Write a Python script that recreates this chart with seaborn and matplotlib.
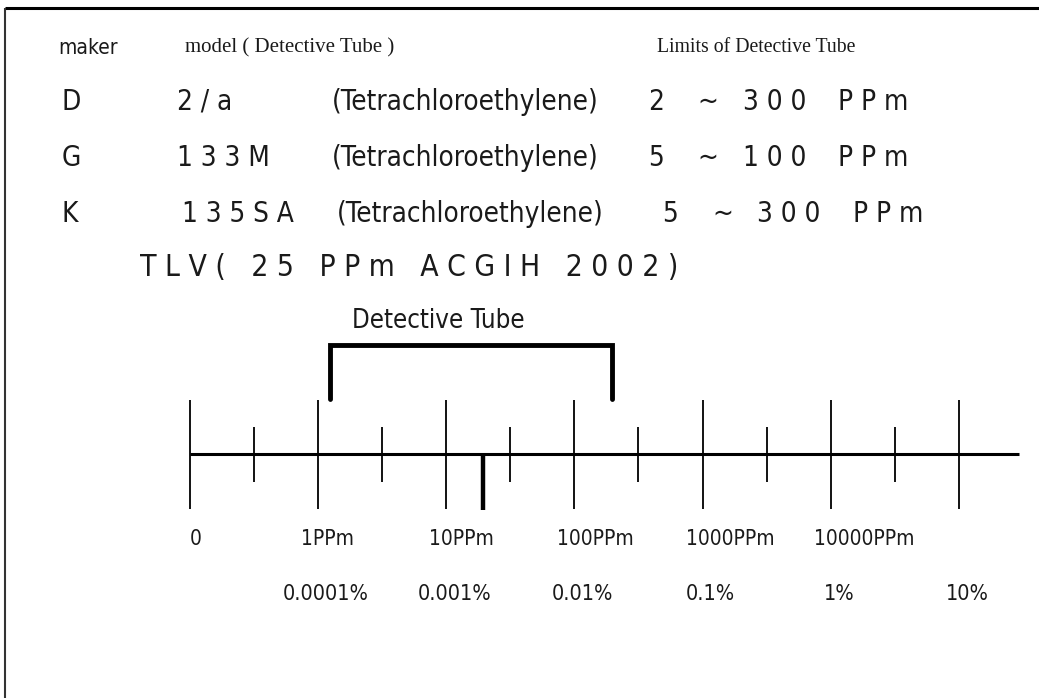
import matplotlib
matplotlib.use("Agg")
import matplotlib.pyplot as plt
import matplotlib.transforms as mtransforms
import seaborn as sns
import pandas as pd

sns.set_theme(style="white")
plt.rcParams['font.family'] = ['DejaVu Sans']

# ---------------- data ----------------
makers = ['D', 'G', 'K']
models = ['2 / a', '1 3 3 M', '1 3 5 S A']
substance = '(Tetrachloroethylene)'
range_low = ['2', '5', '5']
range_high = ['3 0 0', '1 0 0', '3 0 0']
range_unit = 'P P m'
tlv_text = 'T L V (   2 5   P P m   A C G I H   2 0 0 2 )'

major_vals = [0.1, 1, 10, 100, 1000, 10000, 100000]
minor_vals = [0.316, 3.16, 31.6, 316, 3160, 31600]
ppm_labels = ['0', '1PPm', '10PPm', '100PPm', '1000PPm', '10000PPm']
ppm_label_vals = [0.1, 1, 10, 100, 1000, 10000]
pct_labels = ['0.0001%', '0.001%', '0.01%', '0.1%', '1%', '10%']
pct_label_vals = [1, 10, 100, 1000, 10000, 100000]
axis_end = 294000
tube_low, tube_high = 1.25, 195
tlv_marker = 19.5

# ---------------- figure ----------------
fig = plt.figure(figsize=(10.39, 6.98), dpi=100)
ax_txt = fig.add_axes([0, 0, 1, 1])
ax_txt.set_xlim(0, 1039)
ax_txt.set_ylim(698, 0)
ax_txt.axis('off')

ax = fig.add_axes([0, 0, 1, 1])
ax.patch.set_alpha(0)
ax.set_xscale('log')
ax.set_xlim(10 ** -2.4805, 10 ** 5.624)
ax.set_ylim(698, 0)
ax.axis('off')

# border (top + left)
ax_txt.plot([5, 1039], [8, 8], color='black', lw=2.2, solid_capstyle='butt')
ax_txt.plot([5, 5], [8, 698], color='#333333', lw=1.5, solid_capstyle='butt')

sans = ['DejaVu Sans']
serif = ['Liberation Serif', 'DejaVu Serif']
cond = dict(family=sans, fontstretch='condensed', color='#1a1a1a')
fs = 20

# header
ax_txt.text(58, 48, 'maker', fontsize=15, va='center', ha='left', **cond)
ax_txt.text(185, 48, 'model ( Detective Tube )', fontsize=15, family=serif,
            va='center', ha='left', color='#1a1a1a')
ax_txt.text(657, 48, 'Limits of Detective Tube', fontsize=14.2, family=serif,
            va='center', ha='left', color='#1a1a1a')

row_y = [102, 158, 214]
model_x = [177, 177, 182]
sub_x = [332, 332, 337]
low_x = [648, 648, 662]
tilde_x = [697, 697, 712]
high_x = [743, 743, 757]
unit_x = [838, 838, 853]
for i in range(3):
    y = row_y[i]
    ax_txt.text(62, y, makers[i], fontsize=fs, va='center', **cond)
    ax_txt.text(model_x[i], y, models[i], fontsize=fs, va='center', **cond)
    ax_txt.text(sub_x[i], y, substance, fontsize=fs, va='center', **cond)
    ax_txt.text(low_x[i], y, range_low[i], fontsize=fs, va='center', **cond)
    ax_txt.text(tilde_x[i], y, '~', fontsize=fs, va='center', **cond)
    ax_txt.text(high_x[i], y, range_high[i], fontsize=fs, va='center', **cond)
    ax_txt.text(unit_x[i], y, range_unit, fontsize=fs, va='center', **cond)

ax_txt.text(140, 268, tlv_text, fontsize=21.5, va='center', **cond)
ax_txt.text(438, 321, 'Detective Tube', fontsize=18.5, va='center',
            ha='center', **cond)

# ---------------- scale ----------------
ax.hlines(454, major_vals[0], axis_end, color='black', lw=2.2)
ax.vlines(major_vals, 400, 509, color='black', lw=1.3)
ax.vlines(minor_vals, 427, 482, color='black', lw=1.3)

bracket = pd.DataFrame({'x': [tube_low, tube_low, tube_high, tube_high],
                        'y': [399, 345, 345, 399], 'o': [0, 1, 2, 3]})
sns.lineplot(data=bracket, x='x', y='y', sort=False, estimator=None,
             color='black', lw=3.5, ax=ax)
for l in ax.lines:
    l.set_solid_joinstyle('miter')
    l.set_solid_capstyle('round')

ax.vlines([tlv_marker], 454, 510, color='black', lw=3.2)

for v, lab in zip(ppm_label_vals, ppm_labels):
    off = 0 if lab == '0' else -17
    tr = mtransforms.offset_copy(ax.transData, fig=fig, x=off, y=0, units='dots')
    ax.text(v, 539, lab, fontsize=15, ha='left', va='center',
            transform=tr, **cond)

for v, lab in zip(pct_label_vals, pct_labels):
    tr = mtransforms.offset_copy(ax.transData, fig=fig, x=8, y=0, units='dots')
    ax.text(v, 594, lab, fontsize=15.5, ha='center', va='center',
            transform=tr, **cond)

fig.savefig('out.png', dpi=100)
